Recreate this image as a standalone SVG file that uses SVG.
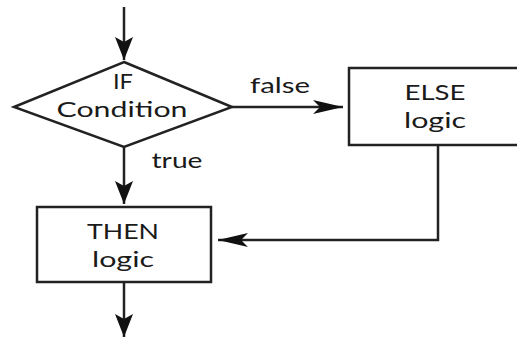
<svg xmlns="http://www.w3.org/2000/svg" width="517" height="338" viewBox="0 0 517 338">
<style>
.shape{fill:#fff;stroke:#222;stroke-width:2.5}
.line{fill:none;stroke:#222;stroke-width:2.5}
.t{font-family:Lato,"Liberation Sans",sans-serif;font-size:22px;fill:#1a1a1a;text-anchor:middle}
</style>
<defs>
<marker id="arrV" markerUnits="userSpaceOnUse" markerWidth="30" markerHeight="24" viewBox="-25 -12 30 24" refX="0" refY="0" orient="auto" overflow="visible">
<path d="M0,0 L-23,-9 L-18,0 L-23,9 Z" fill="#111"/>
</marker>
<marker id="arrH" markerUnits="userSpaceOnUse" markerWidth="34" markerHeight="20" viewBox="-32 -10 34 20" refX="0" refY="0" orient="auto" overflow="visible">
<path d="M0,0 L-30,-7 L-23,0 L-30,7 Z" fill="#111"/>
</marker>
</defs>
<rect width="517" height="338" fill="#fff"/>
<g id="connectors">
<path class="line" d="M124,7 V60" marker-end="url(#arrV)"/>
<path class="line" d="M124,147 V204" marker-end="url(#arrV)"/>
<path class="line" d="M232,107 H343" marker-end="url(#arrH)"/>
<path class="line" d="M438,145 V240 H218" marker-end="url(#arrH)"/>
<path class="line" d="M124,282 V337" marker-end="url(#arrV)"/>
<text class="t" x="280" y="93" textLength="60" lengthAdjust="spacingAndGlyphs">false</text>
<text class="t" x="177" y="168" textLength="51" lengthAdjust="spacingAndGlyphs">true</text>
</g>
<g id="if-condition">
<polygon class="shape" points="124,62 232,107 124,147 14,107"/>
<text class="t" x="123" y="89" textLength="20" lengthAdjust="spacingAndGlyphs">IF</text>
<text class="t" x="122" y="117" textLength="131" lengthAdjust="spacingAndGlyphs">Condition</text>
</g>
<g id="else-logic">
<rect class="shape" x="349" y="68" width="171" height="77"/>
<text class="t" x="435" y="100" textLength="61" lengthAdjust="spacingAndGlyphs">ELSE</text>
<text class="t" x="435" y="128" textLength="62" lengthAdjust="spacingAndGlyphs">logic</text>
</g>
<g id="then-logic">
<rect class="shape" x="37" y="207" width="174" height="75"/>
<text class="t" x="123" y="239" textLength="72" lengthAdjust="spacingAndGlyphs">THEN</text>
<text class="t" x="123" y="267" textLength="62" lengthAdjust="spacingAndGlyphs">logic</text>
</g>
</svg>
